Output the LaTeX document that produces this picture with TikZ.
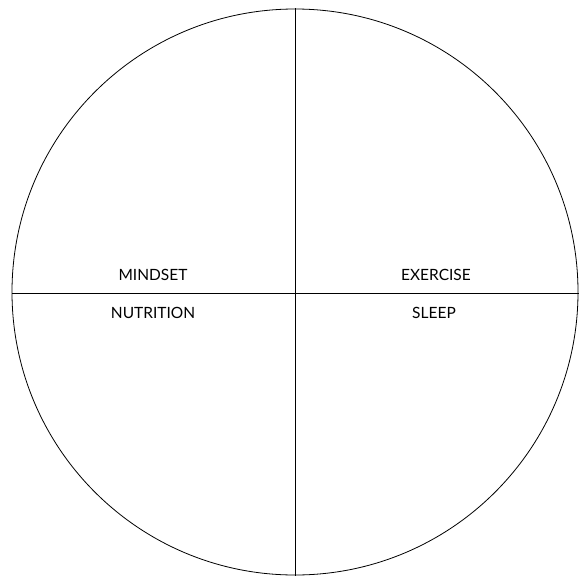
\documentclass[tikz,border=0pt]{standalone}
\usepackage{fontspec}
\setmainfont{Lato}
\begin{document}
\begin{tikzpicture}[x=1pt,y=-1pt,line width=1pt,
  lbl/.style={font=\fontsize{15.5}{18}\selectfont, inner sep=0pt, anchor=center}]
\useasboundingbox (0,0) rectangle (579,576);
\coordinate (c) at (295,292);
\draw[line width=0.8pt] (c) circle[radius=283];
\coordinate (l) at (12,293);
\coordinate (r) at (579,293);
\coordinate (t) at (295,8);
\coordinate (b) at (295,576);
\draw (l) -- (r);
\draw (t) -- (b);
\node[lbl] (mindset) at (153,275) {MINDSET};
\node[lbl] (exercise) at (436,275) {EXERCISE};
\node[lbl] (nutrition) at (153,313) {NUTRITION};
\node[lbl] (sleep) at (434,313) {SLEEP};
\end{tikzpicture}
\end{document}
